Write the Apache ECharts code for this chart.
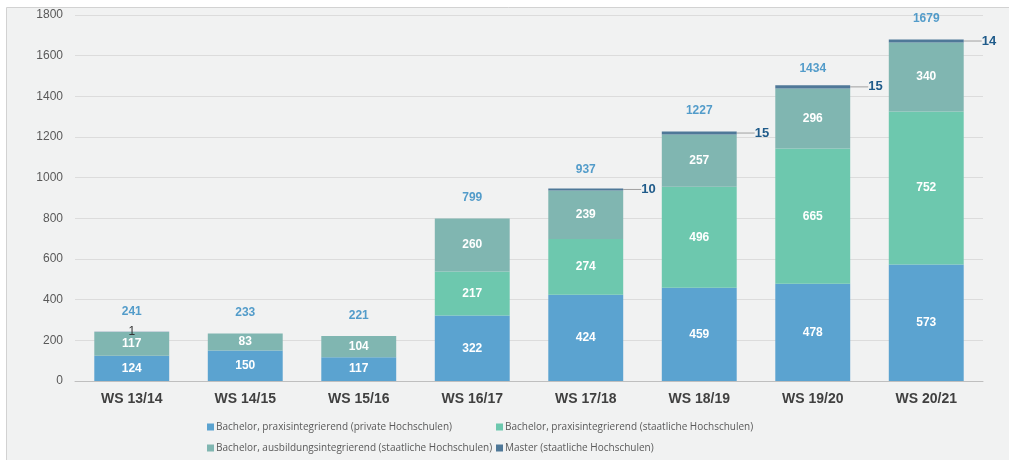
<!DOCTYPE html>
<html>
<head>
<meta charset="utf-8">
<script src="https://cdn.jsdelivr.net/npm/echarts@6/dist/echarts.min.js"></script>
<style>
	html, body { margin: 0; padding: 0; background: #fff; }
	#chart { width: 1009px; height: 460px; }
</style>
</head>
<body>
<div id="chart"></div>
<script>
// Semester
const categories = ['WS 13/14', 'WS 14/15', 'WS 15/16', 'WS 16/17', 'WS 17/18', 'WS 18/19', 'WS 19/20', 'WS 20/21']
// Studierende je Studienform
const privatePraxis = [124, 150, 117, 322, 424, 459, 478, 573]
const staatPraxis = [null, null, null, 217, 274, 496, 665, 752]
const staatAusbildung = [117, 83, 104, 260, 239, 257, 296, 340]
const master = [1, null, null, null, 10, 15, 15, 14]
const totals = [241, 233, 221, 799, 937, 1227, 1434, 1679]
const yTicks = { min: 0, max: 1800, interval: 200 }

const names = [
	'Bachelor, praxisintegrierend (private Hochschulen)',
	'Bachelor, praxisintegrierend (staatliche Hochschulen)',
	'Bachelor, ausbildungsintegrierend (staatliche Hochschulen)',
	'Master (staatliche Hochschulen)'
]
const colors = ['#5ba3d0', '#6dc8ae', '#80b6b1', '#4f7898']

const font = 'Liberation Sans, Arial, sans-serif'
const innerLabel = {
	show: true,
	position: 'inside',
	color: '#fff',
	fontWeight: 'bold',
	fontSize: 12,
	fontFamily: font
}

// Legende: 2 Spalten x 2 Zeilen, je Eintrag eine eigene legend
const legendPos = [
	[207, 420],
	[496, 420],
	[207, 441],
	[496, 441]
]
const legends = names.map((n, i) => ({
	left: legendPos[i][0],
	top: legendPos[i][1],
	itemWidth: 7,
	itemHeight: 7,
	itemGap: 0,
	icon: 'rect',
	padding: 0,
	data: [n],
	textStyle: { color: '#595959', fontSize: 10, lineHeight: 14, fontFamily: 'Open Sans, sans-serif', padding: [0, 0, 0, -3] }
}))

let myChart = echarts.init(document.getElementById('chart'))
let option = {
	backgroundColor: '#fff',
	animation: false,
	color: colors,
	graphic: [
		{
			type: 'rect',
			z: -10,
			shape: { x: 6.5, y: 7.5, width: 1100, height: 600 },
			style: { fill: '#f1f2f2', stroke: '#d2d2d2', lineWidth: 1 }
		}
	],
	grid: {
		top: 15,
		left: 75,
		right: 26,
		bottom: 79
	},
	legend: legends,
	xAxis: {
		type: 'category',
		data: categories,
		axisTick: { show: false },
		axisLine: { lineStyle: { color: '#bfbfbf' } },
		axisLabel: {
			color: '#404040',
			fontWeight: 'bold',
			fontSize: 14,
			fontFamily: font,
			margin: 11
		}
	},
	yAxis: {
		type: 'value',
		min: yTicks.min,
		max: yTicks.max,
		interval: yTicks.interval,
		axisLine: { show: false },
		axisTick: { show: false },
		axisLabel: {
			color: '#595959',
			fontSize: 12,
			fontFamily: font,
			margin: 12,
			formatter: (v) => String(v)
		},
		splitLine: { lineStyle: { color: '#dcdcdc' } }
	},
	series: [
		{
			name: names[0],
			type: 'bar',
			stack: 'all',
			barWidth: '66%',
			data: privatePraxis,
			label: innerLabel
		},
		{
			name: names[1],
			type: 'bar',
			stack: 'all',
			data: staatPraxis,
			label: innerLabel
		},
		{
			name: names[2],
			type: 'bar',
			stack: 'all',
			data: staatAusbildung,
			label: innerLabel
		},
		{
			name: names[3],
			type: 'bar',
			stack: 'all',
			data: master.map((v, i) => {
				if (i === 0) {
					// bei WS 13/14 steht die 1 direkt im Balken
					return {
						value: v,
						label: { position: 'inside', color: '#333', fontWeight: 'normal', fontSize: 12, offset: [0, 1] },
						labelLine: { show: false }
					}
				}
				return v
			}),
			label: {
				show: true,
				position: 'right',
				distance: 4,
				color: '#1f5b8a',
				fontWeight: 'bold',
				fontSize: 13,
				fontFamily: font
			},
			labelLayout: (p) => (p.dataIndex === 0 ? {} : { dx: 14 }),
			labelLine: {
				show: true,
				length2: 0,
				lineStyle: { color: '#a0a0a0', width: 1 }
			}
		},
		{
			name: 'Gesamt',
			type: 'scatter',
			symbolSize: 1,
			itemStyle: { color: 'rgba(0,0,0,0)' },
			data: totals,
			silent: true,
			label: {
				show: true,
				position: 'top',
				distance: 14,
				color: '#2a86bf',
				fontWeight: 'bold',
				fontSize: 12,
				fontFamily: font
			}
		}
	]
}
myChart.setOption(option)
</script>
</body>
</html>
